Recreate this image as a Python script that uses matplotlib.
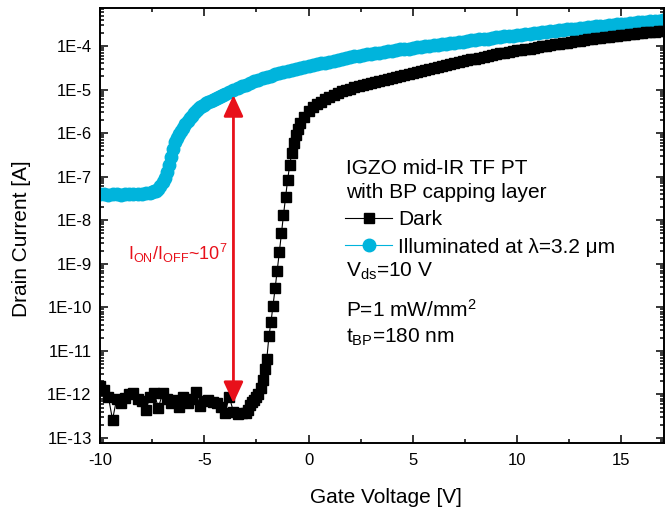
import numpy as np
import matplotlib
matplotlib.use("Agg")
import matplotlib.pyplot as plt
from matplotlib.ticker import (LogLocator, MultipleLocator, FixedLocator,
                               FuncFormatter, NullFormatter)

plt.rcParams['font.family'] = ['Liberation Sans', 'DejaVu Sans']
plt.rcParams['mathtext.fontset'] = 'custom'
plt.rcParams['mathtext.rm'] = 'Liberation Sans'
plt.rcParams['mathtext.it'] = 'Liberation Sans:italic'
plt.rcParams['axes.unicode_minus'] = False

# illuminated (lambda = 3.2 um), log10 of drain current
# flat part every 0.2 V, turn-on every 0.1 V, on state every 0.2 V
vg_light_off = np.round(np.arange(-10.0, -7.59, 0.2), 1)
log_id_light_off = [
    -7.40, -7.40, -7.41, -7.40, -7.40, -7.41, -7.40, -7.40, -7.40, -7.39,
    -7.39, -7.38, -7.37,
]
vg_light_rise = np.round(np.arange(-7.5, -4.05, 0.1), 1)
log_id_light_rise = [
    -7.36, -7.34, -7.32, -7.28, -7.21, -7.12, -7.02, -6.90, -6.73, -6.55,
    -6.37, -6.20, -6.11, -6.03, -5.95, -5.88, -5.80, -5.73, -5.66, -5.60,
    -5.54, -5.49, -5.45, -5.41, -5.38, -5.35, -5.32, -5.29, -5.26, -5.24,
    -5.22, -5.20, -5.17, -5.15, -5.12,
]
vg_light_on = np.round(np.arange(-4.0, 17.01, 0.2), 1)
log_id_light_on = [
    -5.10, -5.06, -5.01, -4.97, -4.93, -4.89, -4.85, -4.81, -4.78, -4.74,
    -4.71, -4.68, -4.65, -4.62, -4.60, -4.57, -4.55, -4.52, -4.50, -4.48,
    -4.46, -4.44, -4.42, -4.40, -4.38, -4.36, -4.34, -4.32, -4.30, -4.28,
    -4.26, -4.24, -4.23, -4.21, -4.19, -4.18, -4.16, -4.15, -4.14, -4.12,
    -4.11, -4.10, -4.08, -4.07, -4.06, -4.04, -4.03, -4.02, -4.01, -3.99,
    -3.98, -3.97, -3.96, -3.95, -3.93, -3.92, -3.91, -3.90, -3.89, -3.87,
    -3.86, -3.85, -3.84, -3.83, -3.81, -3.80, -3.79, -3.78, -3.77, -3.76,
    -3.75, -3.74, -3.73, -3.72, -3.71, -3.70, -3.69, -3.67, -3.66, -3.65,
    -3.64, -3.63, -3.62, -3.61, -3.60, -3.59, -3.58, -3.57, -3.56, -3.55,
    -3.54, -3.53, -3.52, -3.51, -3.50, -3.50, -3.49, -3.48, -3.47, -3.46,
    -3.45, -3.44, -3.43, -3.43, -3.42, -3.41,
]

# dark: off state (0.2 V), subthreshold (0.1 V), on state (0.2 V)
vg_dark_off = np.round(np.arange(-10.0, -2.99, 0.2), 1)
log_id_dark_off = [
    -11.80, -11.90, -12.05, -12.58, -12.10, -12.20, -12.08, -12.00, -11.97, -12.10,
    -12.15, -12.35, -12.05, -11.97, -12.31, -11.97, -12.10, -12.20, -12.12, -12.30,
    -12.05, -12.20, -12.10, -11.95, -12.27, -12.15, -12.12, -12.18, -12.20, -12.30,
    -12.43, -12.05, -12.40, -12.45, -12.42, -12.43,
]
vg_dark_sub = np.round(np.arange(-2.9, -0.45, 0.1), 1)
log_id_dark_sub = [
    -12.35, -12.25, -12.18, -12.12, -12.06, -12.00, -11.85, -11.66, -11.42, -11.19,
    -10.67, -10.34, -9.96, -9.56, -9.16, -8.74, -8.30, -7.88, -7.47, -7.07,
    -6.73, -6.45, -6.22, -6.04, -5.90,
]
vg_dark_on = np.round(np.arange(-0.4, 17.01, 0.2), 1)
log_id_dark_on = [
    -5.76, -5.63, -5.50, -5.41, -5.34, -5.28, -5.22, -5.17, -5.12, -5.08,
    -5.04, -5.01, -4.98, -4.95, -4.92, -4.90, -4.87, -4.85, -4.83, -4.80,
    -4.78, -4.76, -4.73, -4.71, -4.69, -4.67, -4.65, -4.62, -4.60, -4.58,
    -4.55, -4.52, -4.50, -4.48, -4.46, -4.43, -4.41, -4.39, -4.37, -4.35,
    -4.33, -4.31, -4.29, -4.27, -4.25, -4.23, -4.21, -4.19, -4.17, -4.16,
    -4.14, -4.12, -4.10, -4.09, -4.07, -4.06, -4.04, -4.02, -4.01, -3.99,
    -3.98, -3.96, -3.95, -3.93, -3.92, -3.90, -3.89, -3.88, -3.86, -3.85,
    -3.84, -3.82, -3.81, -3.80, -3.79, -3.77, -3.76, -3.75, -3.74, -3.73,
    -3.72, -3.71, -3.70, -3.69, -3.68, -3.67, -3.66, -3.65,
]

# labelled decades on the y axis
y_decades = [-13, -12, -11, -10, -9, -8, -7, -6, -5, -4]

# on/off arrow
arrow_vg = -3.6
arrow_i_on = 7.5e-6
arrow_i_off = 6.3e-13

cyan = '#00b4dc'
red = '#e8101a'
W, H = 665, 508


def px(x, y):
    # pixel position (from top-left) -> figure fraction
    return x / W, 1 - y / H


vg_light = np.concatenate([vg_light_off, vg_light_rise, vg_light_on])
id_light = 10 ** np.array(log_id_light_off + log_id_light_rise + log_id_light_on)
vg_dark = np.concatenate([vg_dark_off, vg_dark_sub, vg_dark_on])
id_dark = 10 ** np.array(log_id_dark_off + log_id_dark_sub + log_id_dark_on)

fig = plt.figure(figsize=(W / 100, H / 100), dpi=100)
ax = fig.add_axes([100 / W, 1 - 443 / H, 564 / W, 435 / H])

l_light, = ax.plot(vg_light, id_light, '-o', color=cyan, ms=9, lw=0.8,
                   mec=cyan, mfc=cyan, label=u'Illuminated at \u03bb=3.2 \u03bcm')
l_dark, = ax.plot(vg_dark, id_dark, '-s', color='black', ms=6.8, lw=0.8,
                  label='Dark')

ax.set_yscale('log')
ax.set_xlim(-10, 17.05)
ax.set_ylim(7.67e-14, 7.45e-4)

ax.xaxis.set_major_locator(FixedLocator([-10, -5, 0, 5, 10, 15]))
ax.xaxis.set_minor_locator(MultipleLocator(2.5))
ax.yaxis.set_major_locator(FixedLocator(10.0 ** np.array(y_decades)))
ax.yaxis.set_minor_locator(LogLocator(base=10, subs=np.arange(2, 10), numticks=20))
ax.yaxis.set_major_formatter(FuncFormatter(lambda v, p: '1E%d' % round(np.log10(v))))
ax.yaxis.set_minor_formatter(NullFormatter())

ax.tick_params(which='both', direction='in', top=True, right=True, labelsize=12, width=1.1)
ax.tick_params(which='major', length=6)
ax.tick_params(which='minor', length=3)
ax.tick_params(axis='y', pad=6)
ax.tick_params(axis='x', pad=7)
for s in ax.spines.values():
    s.set_linewidth(1.4)

ax.set_xlabel('Gate Voltage [V]', fontsize=15, va='baseline')
ax.xaxis.set_label_coords(286 / 564, -60 / 435)
ax.set_ylabel('Drain Current [A]', fontsize=15, va='center')
ax.yaxis.set_label_coords(-78 / 564, 204 / 435)

ax.annotate('', xy=(arrow_vg, arrow_i_on), xytext=(arrow_vg, arrow_i_off),
            arrowprops=dict(arrowstyle='<|-|>,head_length=0.65,head_width=0.3',
                            color=red, lw=2, mutation_scale=20,
                            shrinkA=0, shrinkB=0))
fig.text(*px(128, 260), r'$\mathregular{I_{ON}/I_{OFF}}$~10$^\mathregular{7}$',
         color=red, fontsize=13, ha='left', va='baseline')

fig.text(*px(346, 174), 'IGZO mid-IR TF PT', fontsize=15, va='baseline')
fig.text(*px(346, 198), 'with BP capping layer', fontsize=15, va='baseline')
fig.text(*px(346, 277), r'$\mathregular{V_{ds}}$=10 V', fontsize=15, va='baseline')
fig.text(*px(346, 317), r'P=1 mW/mm$^\mathregular{2}$', fontsize=15, va='baseline')
fig.text(*px(346, 343), r'$\mathregular{t_{BP}}$=180 nm', fontsize=15, va='baseline')

ax.legend(handles=[l_dark, l_light], loc='center left',
          bbox_to_anchor=px(345, 233.5), bbox_transform=fig.transFigure,
          frameon=False, fontsize=15, handlelength=2.26, handletextpad=0.3,
          labelspacing=0.4, borderpad=0, borderaxespad=0)

fig.savefig('out.png', dpi=100)
